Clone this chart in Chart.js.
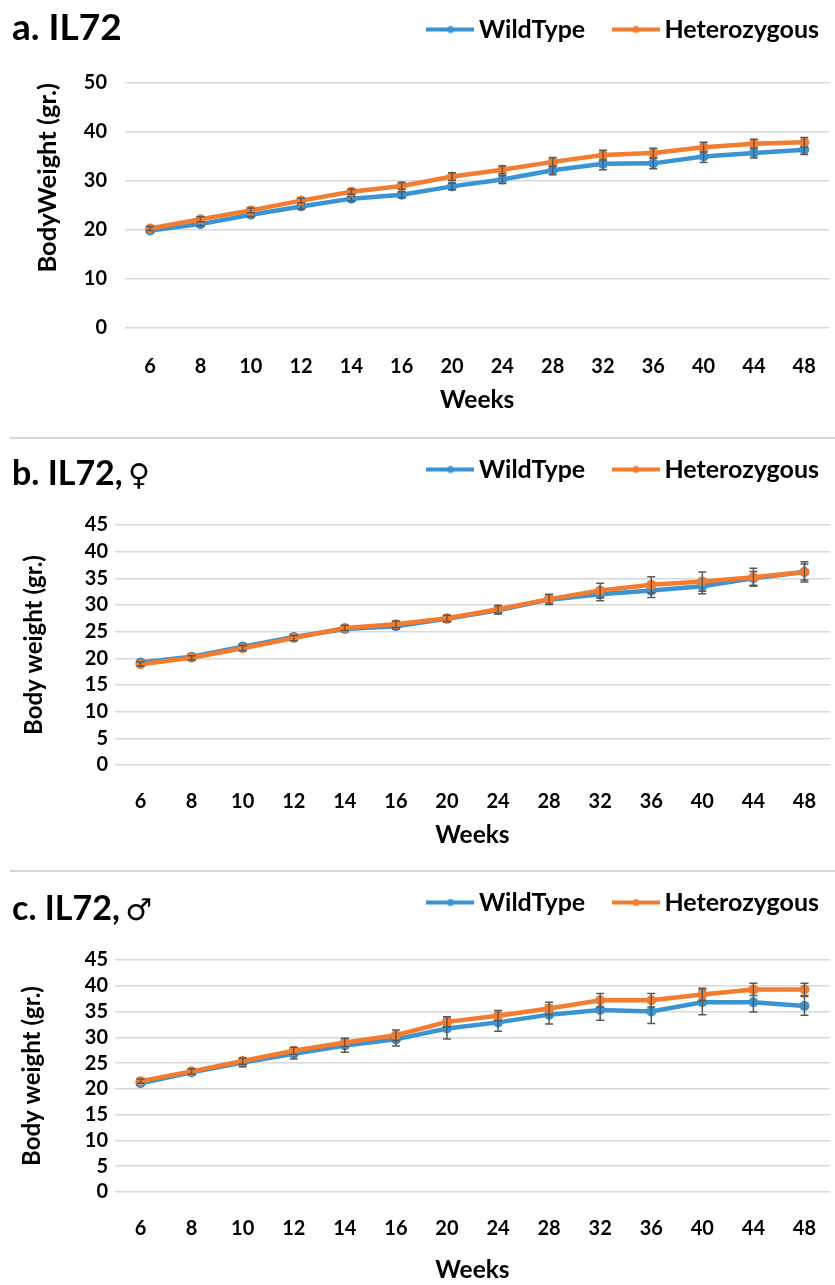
<!DOCTYPE html>
<html>
<head>
<meta charset="utf-8">
<script src="https://cdn.jsdelivr.net/npm/chart.js@4.4.0/dist/chart.umd.min.js"></script>
<style>
  body { margin: 0; background: #fff; width: 835px; height: 1285px; position: relative; overflow: hidden; font-family: Lato, sans-serif; }
  .panel { position: absolute; left: 0; width: 835px; }
  .panel-title { position: absolute; left: 12px; font-weight: bold; font-size: 34px; color: #000; line-height: 1; white-space: nowrap; }
  .panel-title .sym { font-family: "DejaVu Sans", sans-serif; font-size: 30px; font-weight: normal; margin-left: -3px; }
  .sep { position: absolute; left: 10px; right: 0; height: 2px; background: #d6d6d6; }
</style>
</head>
<body>
<div class="panel" style="top:0;height:437px"><canvas id="chartA"></canvas><div class="panel-title" style="top:7px;font-size:37px">a. IL72</div></div>
<div class="sep" style="top:437px"></div>
<div class="panel" style="top:437px;height:433px"><canvas id="chartB"></canvas><div class="panel-title" style="top:18px">b. IL72, <span class="sym">♀</span></div></div>
<div class="sep" style="top:870px"></div>
<div class="panel" style="top:870px;height:415px"><canvas id="chartC"></canvas><div class="panel-title" style="top:20px">c. IL72, <span class="sym">♂</span></div></div>

<script>
// x axis categories (weeks)
const weeks = ["6", "8", "10", "12", "14", "16", "20", "24", "28", "32", "36", "40", "44", "48"];

// a. all mice
const wildTypeA = [19.9, 21.2, 23.1, 24.8, 26.4, 27.2, 28.9, 30.3, 32.2, 33.5, 33.6, 35.0, 35.7, 36.4];
const wildTypeAErr = [0.3, 0.4, 0.4, 0.5, 0.5, 0.6, 0.7, 0.8, 0.9, 1.2, 1.1, 1.2, 1.0, 1.0];
const hetA = [20.3, 22.2, 24.0, 26.0, 27.8, 29.0, 30.9, 32.3, 33.9, 35.3, 35.7, 36.9, 37.6, 37.9];
const hetAErr = [0.4, 0.5, 0.5, 0.5, 0.5, 0.7, 0.8, 0.8, 0.9, 1.0, 1.0, 1.0, 0.9, 1.0];

// b. females
const wildTypeB = [19.2, 20.3, 22.2, 24.0, 25.5, 26.0, 27.4, 29.0, 31.0, 32.0, 32.7, 33.5, 35.0, 36.2];
const wildTypeBErr = [0.4, 0.5, 0.5, 0.5, 0.5, 0.5, 0.6, 0.7, 0.9, 1.2, 1.3, 1.4, 1.3, 1.5];
const hetB = [18.9, 20.1, 21.9, 23.8, 25.7, 26.4, 27.5, 29.2, 31.1, 32.7, 33.8, 34.4, 35.2, 36.2];
const hetBErr = [0.4, 0.4, 0.5, 0.5, 0.5, 0.6, 0.6, 0.7, 0.9, 1.4, 1.5, 1.8, 1.7, 1.9];

// c. males
const wildTypeC = [21.1, 23.2, 25.1, 26.8, 28.4, 29.6, 31.7, 32.9, 34.4, 35.3, 35.0, 36.8, 36.8, 36.1];
const wildTypeCErr = [0.4, 0.5, 0.8, 1.0, 1.3, 1.3, 2.0, 1.7, 1.8, 2.0, 2.3, 2.4, 1.9, 1.8];
const hetC = [21.5, 23.4, 25.4, 27.4, 29.0, 30.4, 33.0, 34.2, 35.6, 37.2, 37.2, 38.3, 39.3, 39.3];
const hetCErr = [0.4, 0.5, 0.6, 0.7, 0.8, 1.0, 1.0, 1.0, 1.2, 1.3, 1.3, 1.2, 1.2, 1.2];

const BLUE = "#3a93d2";
const ORANGE = "#f47c30";
const FONT = "Lato";

// small line+dot marker for the legend, like excel
function legendMark(color) {
  const c = document.createElement("canvas");
  c.width = 48;
  c.height = 12;
  const g = c.getContext("2d");
  g.strokeStyle = color;
  g.lineWidth = 4;
  g.beginPath();
  g.moveTo(0, 6);
  g.lineTo(48, 6);
  g.stroke();
  g.fillStyle = color;
  g.beginPath();
  g.arc(24, 6, 3.5, 0, Math.PI * 2);
  g.fill();
  return c;
}
const marks = [legendMark(BLUE), legendMark(ORANGE)];

// draw the error bars right after each line, so the next line covers them
const errorBars = {
  id: "errorBars",
  afterDatasetDraw(chart, args) {
    const ds = chart.data.datasets[args.index];
    if (!ds.errors) return;
    const y = chart.scales.y;
    const ctx = chart.ctx;
    ctx.save();
    ctx.strokeStyle = "#595959";
    ctx.lineWidth = 1.5;
    args.meta.data.forEach((pt, j) => {
      const top = y.getPixelForValue(ds.data[j] + ds.errors[j]);
      const bottom = y.getPixelForValue(ds.data[j] - ds.errors[j]);
      ctx.beginPath();
      ctx.moveTo(pt.x, top);
      ctx.lineTo(pt.x, bottom);
      ctx.moveTo(pt.x - 4, top);
      ctx.lineTo(pt.x + 4, top);
      ctx.moveTo(pt.x - 4, bottom);
      ctx.lineTo(pt.x + 4, bottom);
      ctx.stroke();
    });
    ctx.restore();
  },
};

function makeChart(id, p) {
  // push the plot down under the legend
  const legendGap = {
    id: "legendGap",
    beforeInit(chart) {
      const fit = chart.legend.fit;
      chart.legend.fit = function () {
        fit.bind(chart.legend)();
        this.height += p.legendGap;
      };
    },
  };

  return new Chart(document.getElementById(id), {
    type: "line",
    data: {
      labels: weeks,
      datasets: [
        {
          label: "WildType",
          data: p.wt,
          errors: p.wtErr,
          borderColor: BLUE,
          backgroundColor: BLUE,
          borderWidth: 4.5,
          pointRadius: 5,
          pointBorderWidth: 0,
          order: 1,
        },
        {
          label: "Heterozygous",
          data: p.het,
          errors: p.hetErr,
          borderColor: ORANGE,
          backgroundColor: ORANGE,
          borderWidth: 4.5,
          pointRadius: 5,
          pointBorderWidth: 0,
          order: 0,
        },
      ],
    },
    options: {
      responsive: true,
      maintainAspectRatio: false,
      animation: false,
      layout: { padding: { top: p.padTop, right: 0, left: 0, bottom: 0 } },
      plugins: {
        tooltip: { enabled: false },
        legend: {
          position: "top",
          align: "end",
          labels: {
            usePointStyle: true,
            pointStyleWidth: 32,
            padding: 16,
            color: "#000",
            font: { family: FONT, size: 25, weight: "bold" },
            generateLabels(chart) {
              const items = Chart.defaults.plugins.legend.labels.generateLabels(chart);
              items.sort((a, b) => a.datasetIndex - b.datasetIndex);
              items.forEach((it) => (it.pointStyle = marks[it.datasetIndex]));
              // a bit more room after the WildType entry
              items[0].text += "\u2003";
              return items;
            },
          },
        },
      },
      scales: {
        x: {
          offset: true,
          grid: { display: false },
          border: { display: false },
          ticks: { color: "#000", padding: p.xTickPad, font: { family: FONT, size: 20, weight: "bold" } },
          title: {
            display: true,
            text: "Weeks",
            color: "#000",
            font: { family: FONT, size: 24.5, weight: "bold" },
            padding: { top: 0, bottom: p.xTitlePad },
          },
          afterFit: (s) => (s.height = p.xHeight),
        },
        y: {
          min: 0,
          max: p.yMax,
          grid: { color: "#d9d9d9", lineWidth: 1.5, drawTicks: false },
          border: { display: false },
          ticks: {
            stepSize: p.yStep,
            autoSkip: false,
            color: "#000",
            padding: p.yTickPad,
            font: { family: FONT, size: 20, weight: "bold", lineHeight: 1 },
          },
          title: {
            display: true,
            text: p.yTitle,
            align: p.yTitleAlign,
            color: "#000",
            font: { family: FONT, size: p.yTitleSize, weight: "bold" },
            padding: { top: p.yTitlePad, bottom: 0 },
          },
          afterFit: (s) => (s.width = p.yWidth),
        },
      },
    },
    plugins: [errorBars, legendGap],
  });
}

makeChart("chartA", {
  wt: wildTypeA, wtErr: wildTypeAErr, het: hetA, hetErr: hetAErr,
  yMax: 50, yStep: 10, yTitle: "BodyWeight (gr.)", yTitleAlign: "end", yTitleSize: 25.5,
  padTop: 1, legendGap: 31,
  yWidth: 125, yTickPad: 18, yTitlePad: 32,
  xHeight: 109, xTickPad: 19, xTitlePad: 22,
});

makeChart("chartB", {
  wt: wildTypeB, wtErr: wildTypeBErr, het: hetB, hetErr: hetBErr,
  yMax: 45, yStep: 5, yTitle: "Body weight (gr.)", yTitleAlign: "center", yTitleSize: 24,
  padTop: 4, legendGap: 33,
  yWidth: 115, yTickPad: 7, yTitlePad: 20,
  xHeight: 105, xTickPad: 17, xTitlePad: 20,
});

makeChart("chartC", {
  wt: wildTypeC, wtErr: wildTypeCErr, het: hetC, hetErr: hetCErr,
  yMax: 45, yStep: 5, yTitle: "Body weight (gr.)", yTitleAlign: "center", yTitleSize: 24,
  padTop: 4, legendGap: 35,
  yWidth: 115, yTickPad: 7, yTitlePad: 18,
  xHeight: 93, xTickPad: 17, xTitlePad: 0,
});
</script>
</body>
</html>
